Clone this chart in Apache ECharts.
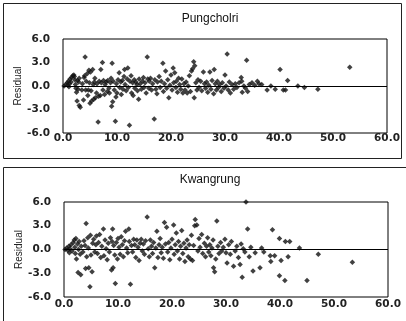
<!DOCTYPE html>
<html>
<head>
<meta charset="utf-8">
<script src="https://cdn.jsdelivr.net/npm/echarts@6/dist/echarts.min.js"></script>
<style>
  html, body { margin: 0; padding: 0; background: #fff; }
  #chart { width: 406px; height: 321px; }
</style>
</head>
<body>
<div id="chart"></div>
<script>
// Residual plots for two sites
const panelTitles = ["Pungcholri", "Kwangrung"];
const xTicks = [0, 10, 20, 30, 40, 50, 60];
const yTicks = [-6, -3, 0, 3, 6];

// [x, residual]
const pungcholriPoints = [
  [0.2, 0.0], [0.5, 0.2], [0.8, 0.4], [1.0, 0.6], [1.2, 0.3], [1.3, 0.9], [1.5, 0.5], [1.6, 1.1],
  [1.8, 1.3], [2.0, 1.4], [2.1, 1.2], [2.2, 0.8], [2.3, 0.2], [2.4, -0.3], [2.5, -0.8], [2.6, -1.9],
  [2.8, -0.4], [2.9, 0.5], [3.0, -2.5], [3.2, -2.7], [3.0, 1.0], [2.7, 0.7], [1.1, -0.1], [0.9, 0.1],
  [3.5, -0.5], [3.6, 0.3], [3.8, -1.8], [3.9, 1.1], [4.0, 1.3], [4.1, 3.7], [4.2, -0.5], [4.3, 0.6],
  [4.5, 1.6], [4.6, -1.2], [4.7, -0.5], [4.8, 2.0], [4.9, 0.4], [5.0, -2.2], [5.1, 1.8], [5.2, -0.6],
  [5.3, -1.9], [5.5, 2.1], [5.6, 0.2], [5.7, -1.7], [5.8, 0.5], [6.0, -1.5], [5.9, 1.0],
  [6.2, -0.9], [6.3, 0.3], [6.5, -4.6], [6.6, -1.3], [6.7, 0.6], [6.9, -1.2], [7.0, 2.1], [7.1, 0.4],
  [7.3, 3.0], [7.4, -0.5], [7.5, 0.7], [7.7, -1.1], [7.8, 0.2], [8.0, 0.5], [8.2, -0.7], [8.3, 0.7],
  [8.5, -0.3], [8.6, -0.9], [8.8, 0.4], [9.0, -2.6], [9.1, 2.9], [9.2, -2.0], [9.3, 0.6], [9.5, -0.5],
  [8.9, 1.0],
  [9.7, -4.5], [9.8, -1.4], [9.9, 0.3], [10.0, -0.9], [10.2, 0.8], [10.4, 1.7], [10.5, -0.2], [10.7, 0.5],
  [10.8, -1.1], [11.0, 0.7], [11.1, -0.4], [11.3, 1.2], [11.4, 2.1], [11.5, 0.2], [11.7, -0.6], [11.9, 0.9],
  [12.0, 2.3], [12.1, -0.2], [12.3, -5.0], [12.4, 0.6], [12.6, 1.3], [12.7, -0.9], [12.9, 0.4],
  [13.0, -1.2], [13.2, 0.8], [13.3, -0.3], [13.5, 0.5], [13.7, 0.2], [13.8, -0.6], [14.0, -1.7], [14.1, 0.9],
  [14.3, 0.3], [14.5, -0.4], [14.7, 0.6], [14.9, 1.1], [15.0, -0.2], [15.2, 0.4], [15.4, -0.9], [15.6, 3.7],
  [15.7, 0.9], [15.9, -0.3], [16.0, 0.6],
  [16.2, 1.0], [16.4, -0.5], [16.6, 0.3], [16.9, -4.2], [17.0, 0.8], [17.2, -0.4], [17.4, -1.0], [17.5, 0.5],
  [17.8, 1.2], [18.0, -0.2], [18.2, 0.6], [18.5, 2.9], [18.6, -0.7], [18.8, 0.3], [19.0, 1.9], [19.2, -0.3],
  [19.4, 0.8], [19.6, -1.5], [19.8, 0.1],
  [20.0, 1.4], [20.2, -0.5], [20.4, 2.3], [20.5, 0.4], [20.7, 1.7], [20.9, -0.2], [21.0, 0.6], [21.2, -0.8],
  [21.4, 1.0], [21.6, 0.2], [21.8, -0.4], [22.0, 0.9], [22.2, -0.9], [22.4, 0.3], [22.6, -0.5], [22.8, 0.5],
  [23.0, -0.9], [23.2, 0.0], [23.4, 1.3], [23.6, -0.7], [23.8, 1.9],
  [24.0, 2.2], [24.2, 3.1], [24.3, -1.5], [24.4, 2.6], [24.6, 0.4], [24.8, -0.5], [25.0, 0.8], [25.2, -0.2],
  [25.5, 0.6], [25.7, -0.6], [26.0, 1.8], [26.2, 0.3], [26.4, -0.3], [26.6, 0.5], [26.8, -0.8], [27.0, 0.1],
  [27.2, 1.8], [27.4, -0.4], [27.6, 0.7], [27.9, -1.0],
  [28.0, 2.1], [28.2, 0.3], [28.4, -0.5], [28.6, 0.6], [28.8, -0.2], [29.0, 0.2], [29.3, -0.7], [29.5, 0.4],
  [29.8, -0.3], [30.0, 1.4], [30.2, 0.0], [30.4, 4.1], [30.6, -0.5], [30.8, 0.5], [31.0, -0.9], [31.3, 0.2],
  [31.6, -0.4], [31.9, 0.3],
  [32.2, -0.2], [32.6, 0.4], [33.0, 1.1], [33.1, 0.6], [33.2, -0.8], [33.5, 0.0], [33.8, -0.3], [34.0, 3.3],
  [34.2, -0.7], [34.5, 0.2], [35.0, 0.4], [35.5, 0.1], [36.0, 0.6], [36.3, 0.3], [36.8, 0.2],
  [37.8, -0.5], [38.5, 0.0], [39.3, -0.4], [40.2, 2.1], [40.8, -0.5], [41.2, -0.5], [41.6, 0.7], [43.5, 0.0],
  [44.7, -0.2], [47.2, -0.4], [53.1, 2.4]
];

const kwangrungPoints = [
  [0.2, 0.0], [0.5, 0.2], [0.7, -0.1], [0.9, 0.4], [1.1, 0.1], [1.3, 0.6], [1.5, -0.2], [1.7, 0.9],
  [1.9, 1.2], [2.0, 0.3], [2.1, -0.5], [2.2, 1.4], [2.3, -1.2], [2.5, 0.7], [2.6, -2.9], [2.7, 0.0],
  [2.8, 1.0], [3.0, -0.6], [3.1, -3.2], [3.2, 0.4], [1.0, -0.4],
  [3.5, -0.3], [3.7, 1.1], [3.9, 0.5], [4.0, -2.4], [4.1, 3.3], [4.2, -0.9], [4.4, 1.5], [4.5, 0.2],
  [4.6, -2.3], [4.8, -4.7], [4.9, 1.8], [5.0, -0.7], [5.2, -2.8], [5.3, 0.8], [5.5, 1.3], [5.7, -0.3],
  [5.9, 0.6], [6.0, 1.7],
  [6.2, -0.5], [6.4, 0.9], [6.6, 1.9], [6.8, -1.0], [7.0, 0.4], [7.3, 2.6], [7.4, -0.8], [7.6, 1.2],
  [7.8, 0.1], [8.0, -1.3], [8.2, 0.8], [8.4, -0.3], [8.6, 1.5], [8.8, -2.6], [9.0, 2.6], [9.1, -2.3],
  [9.2, 0.5], [9.4, -0.7], [8.9, 1.0],
  [9.5, -4.3], [9.7, 0.9], [9.9, -1.2], [10.0, 1.4], [10.2, 0.3], [10.4, -0.6], [10.6, 1.6], [10.8, 0.6],
  [11.0, -0.9], [11.2, 1.1], [11.4, 2.3], [11.6, 0.2], [11.8, -0.4], [12.0, 2.6], [12.1, 1.0], [12.3, -4.4],
  [12.5, 0.5], [12.7, -0.3], [12.9, 1.3],
  [13.1, 0.6], [13.3, -1.0], [13.5, 1.2], [13.7, 0.3], [13.9, -1.4], [14.1, 0.8], [14.3, 1.3], [14.5, -0.2],
  [14.7, 0.7], [14.9, -0.6], [15.1, 1.1], [15.4, 4.1], [15.6, 0.1], [15.8, -0.9], [16.0, 1.2],
  [16.2, 0.4], [16.4, -0.5], [16.6, 0.9], [16.8, -2.3], [17.0, 0.2], [17.2, 2.3], [17.4, -1.0], [17.6, 0.6],
  [17.8, 1.4], [18.0, -0.4], [18.2, 0.3], [18.4, -1.1], [18.6, 3.4], [18.8, 0.7], [19.0, 2.8], [19.2, -0.3],
  [19.4, 0.9], [19.6, -1.3], [19.8, 0.2],
  [20.0, 1.3], [20.3, 3.1], [20.4, -0.6], [20.6, 0.6], [20.8, 2.1], [21.0, -0.2], [21.2, 1.0], [21.4, -1.2],
  [21.6, 0.4], [21.8, 2.4], [22.0, -0.5], [22.2, 0.8], [22.4, -1.5], [22.6, 0.2], [22.8, 1.2], [23.0, -0.9],
  [23.2, 0.6], [23.4, -1.2], [23.6, 1.8], [23.8, -1.4],
  [24.0, 0.5], [24.2, 3.0], [24.3, 3.8], [24.6, 3.1], [24.8, -0.2], [25.0, 1.4], [25.2, 0.3], [25.5, 1.9],
  [25.7, -0.5], [26.0, 0.8], [26.2, -0.9], [26.4, 0.4], [26.6, 1.5], [26.8, -0.3], [27.0, 0.6], [27.2, -0.8],
  [27.4, 0.2], [27.7, -2.3], [27.9, -2.8], [27.6, 1.2],
  [28.1, -1.2], [28.3, 3.6], [28.5, 0.4], [28.7, -0.5], [29.0, 0.9], [29.2, -0.2], [29.5, 0.3], [29.8, 1.3],
  [30.0, -0.4], [30.2, -1.7], [30.5, 0.6], [30.8, -0.6], [31.0, 1.0], [31.4, -2.1], [31.7, -0.2], [32.0, 0.4],
  [32.3, -1.0], [32.6, -1.9], [32.8, 0.7],
  [33.0, -3.5], [33.2, 0.1], [33.5, -0.3], [33.7, 6.0], [34.0, 2.6], [34.3, -0.9], [34.6, 0.3], [35.0, -2.7],
  [35.4, -0.4], [36.3, -2.3], [36.6, 0.2], [37.0, -0.3], [38.2, -0.8], [38.3, -1.5], [38.6, 2.5], [39.0, -0.8],
  [39.9, 1.4], [39.9, -3.3], [40.2, -1.4], [40.9, -3.9], [41.0, 1.0], [41.5, -0.9], [41.8, 1.0], [43.6, 0.2],
  [45.0, -3.9], [47.1, -0.6], [53.4, -1.6]
];

const chart = echarts.init(document.getElementById("chart"), null, { renderer: "canvas" });

const tickFont = { fontFamily: "DejaVu Sans", fontWeight: "bold", fontSize: 10.5, color: "#222" };

// plot areas, in pixels
const grids = [
  { left: 63, right: 19, top: 39, height: 94 },
  { left: 64, right: 18, top: 202, height: 95 }
];

const xAxes = grids.map((g, i) => ({
  type: "value",
  gridIndex: i,
  min: xTicks[0],
  max: xTicks[xTicks.length - 1],
  interval: 10,
  axisLine: { show: false },
  axisTick: { show: false },
  splitLine: { show: false },
  axisLabel: { ...tickFont, margin: i === 0 ? 0 : 2, formatter: (v) => v.toFixed(1) }
}));

const yAxes = grids.map((g, i) => ({
  type: "value",
  gridIndex: i,
  min: yTicks[0],
  max: yTicks[yTicks.length - 1],
  interval: 3,
  name: "Residual",
  nameLocation: "middle",
  nameGap: 40,
  nameMoveOverlap: false,
  nameTextStyle: { fontFamily: "Liberation Sans", fontSize: 10, color: "#222" },
  axisLine: { show: false },
  axisTick: { show: false },
  splitLine: { show: false },
  axisLabel: { ...tickFont, margin: 13, formatter: (v) => v.toFixed(1) }
}));

const pointSets = [pungcholriPoints, kwangrungPoints];

const series = pointSets.map((pts, i) => ({
  type: "scatter",
  xAxisIndex: i,
  yAxisIndex: i,
  symbol: "diamond",
  symbolSize: 5.5,
  itemStyle: { color: "#111" },
  data: pts,
  silent: true,
  markLine: {
    silent: true,
    symbol: "none",
    label: { show: false },
    lineStyle: { color: "#000", width: 1, type: "solid" },
    data: [{ yAxis: 0 }]
  }
}));

const option = {
  backgroundColor: "#fff",
  animation: false,
  title: panelTitles.map((t, i) => ({
    text: t,
    left: 205,
    textAlign: "center",
    top: i === 0 ? 8 : 169,
    textStyle: { fontFamily: "Liberation Sans", fontWeight: "normal", fontSize: 12, color: "#111" }
  })),
  grid: grids.map((g) => ({ ...g, show: true, borderColor: "#000", borderWidth: 1, backgroundColor: "transparent" })),
  xAxis: xAxes,
  yAxis: yAxes,
  series: series,
  graphic: [
    // outer frames around each panel
    { type: "rect", shape: { x: 3.5, y: 3.5, width: 398, height: 155 }, style: { fill: "none", stroke: "#222", lineWidth: 1 }, silent: true },
    { type: "rect", shape: { x: 3.5, y: 167.5, width: 410, height: 200 }, style: { fill: "none", stroke: "#222", lineWidth: 1 }, silent: true }
  ]
};

chart.setOption(option);
</script>
</body>
</html>
